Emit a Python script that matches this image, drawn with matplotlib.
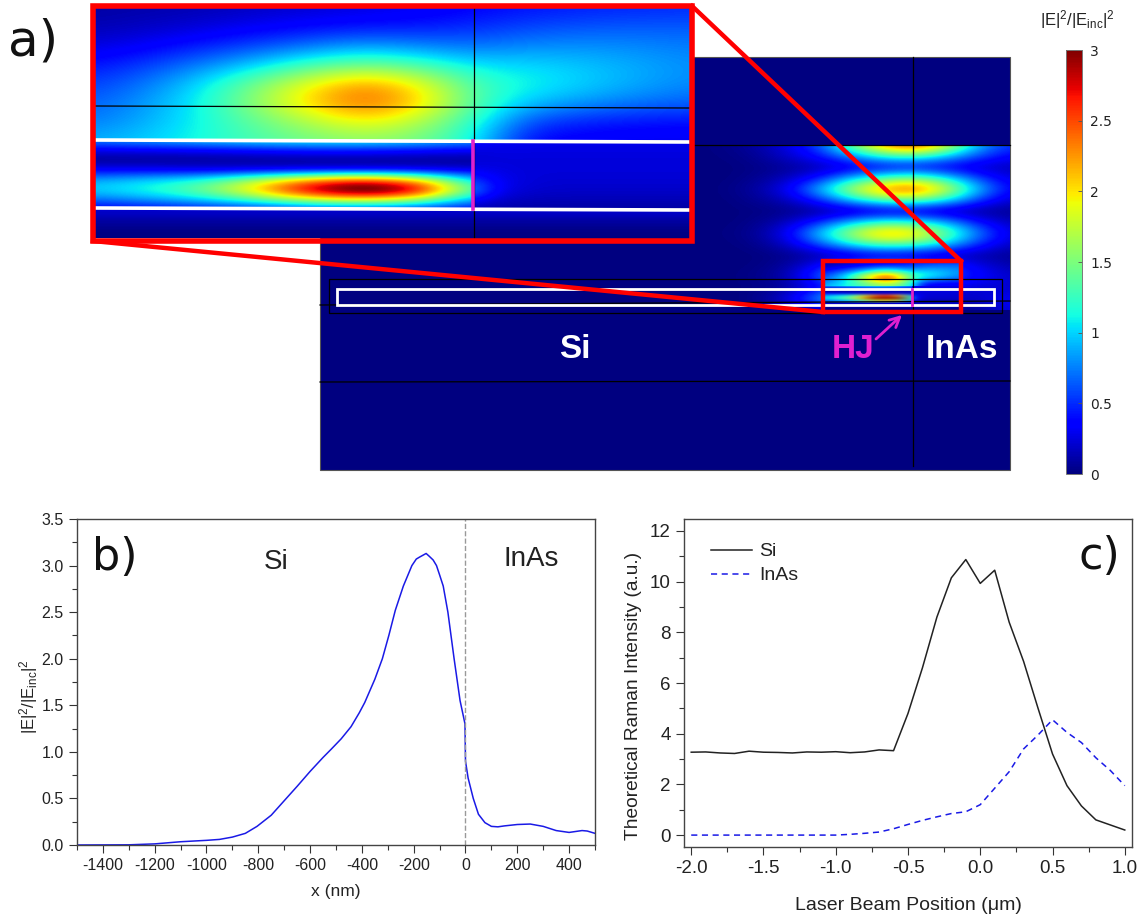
import numpy as np
import matplotlib
matplotlib.use('Agg')
import matplotlib.pyplot as plt
from matplotlib.patches import Rectangle
from matplotlib.cm import ScalarMappable
from matplotlib.colors import Normalize

plt.rcParams['font.family'] = ['Liberation Sans', 'DejaVu Sans']
plt.rcParams['mathtext.fontset'] = 'custom'
plt.rcParams['mathtext.rm'] = 'Liberation Sans'
plt.rcParams['mathtext.default'] = 'regular'
plt.rcParams['axes.unicode_minus'] = False

# panel b
b_x = [-1500, -1300, -1200, -1100, -1000, -950, -900, -850, -805, -750, -692, -650, -600, -550,
       -518, -480, -442, -410, -389, -350, -321, -296, -271, -240, -207, -190, -178, -165, -152,
       -140, -125, -112, -100, -86, -68, -44, -21, -8, -2, 0, 10, 30, 50, 75, 100, 125, 150, 200,
       250, 300, 350, 400, 450, 470, 500]
b_y = [0, .002, .012, .035, .05, .06, .085, .125, .2, .32, .5, .63, .79, .94,
       1.03, 1.14, 1.27, 1.42, 1.53, 1.78, 2.0, 2.25, 2.52, 2.78, 3.0, 3.07, 3.09, 3.11, 3.13,
       3.1, 3.06, 3.0, 2.9, 2.78, 2.5, 2.0, 1.55, 1.38, 1.3, .9, .72, .5, .33, .24, .2, .195, .205, .22,
       .225, .2, .155, .135, .155, .15, .125]

# panel c
c_x = [-2.0, -1.9, -1.8, -1.7, -1.6, -1.5, -1.4, -1.3, -1.2, -1.1, -1.0, -.9, -.8, -.7, -.6, -.5,
       -.4, -.3, -.2, -.1, 0, .1, .2, .3, .4, .5, .6, .7, .8, .9, 1.0]
si_y = [3.27, 3.28, 3.24, 3.22, 3.31, 3.27, 3.26, 3.24, 3.28, 3.27, 3.29, 3.25, 3.28, 3.36, 3.33, 4.8,
        6.6, 8.6, 10.15, 10.87, 9.93, 10.45, 8.4, 6.85, 5.0, 3.2, 1.95, 1.15, .6, .4, .2]
inas_y = [0, 0, 0, 0, 0, 0, 0, 0, 0, 0, 0, .03, .07, .12, .25, .42,
          .58, .72, .85, .92, 1.2, 1.85, 2.5, 3.4, 3.95, 4.55, 4.05, 3.65, 3.05, 2.55, 1.95]

# field map, one row per line
blobs = [[0, .02, .08, .25, .55, 1.4, 2.3, 2.7, 1.9, .9, .5],
         [0, .01, .05, .2, .4, .8, 1.2, 1.3, 1.0, .6, .35],
         [0, 0, .02, .06, .12, .2, .28, .3, .25, .18, .15],
         [0, 0, .04, .15, .4, .9, 1.3, 1.5, 1.1, .55, .25],
         [0, .01, .08, .3, .9, 1.7, 2.4, 2.6, 1.9, .95, .35],
         [0, 0, .05, .15, .45, .95, 1.35, 1.45, 1.1, .55, .2],
         [0, 0, .01, .03, .06, .1, .14, .14, .1, .06, .05],
         [0, 0, .03, .15, .45, .9, 1.2, 1.15, .85, .4, .15],
         [0, .01, .05, .3, .95, 1.7, 2.3, 2.2, 1.5, .75, .25],
         [0, 0, .03, .18, .6, 1.1, 1.45, 1.35, 1.0, .5, .18],
         [0, 0, 0, .03, .08, .14, .18, .18, .14, .1, .05],
         [0, 0, .01, .08, .35, .75, .95, .8, .55, .3, .12],
         [0, 0, .03, .12, .6, 1.3, 2.1, 1.3, .6, .4, .2],
         [0, 0, .01, .05, .25, .5, .7, .4, .25, .2, .2],
         [0, 0, .02, .25, .9, 1.6, 3.0, .7, .2, .2, .35],
         [0, 0, 0, 0, 0, .05, .1, .05, .02, .02, .3]]

# zoomed inset, above the wire
inset_top = [[.10, .12, .14, .18, .22, .26, .30, .36, .42, .46, .48, .50],
             [.14, .18, .24, .32, .38, .42, .44, .50, .58, .62, .64, .64],
             [.25, .34, .46, .58, .72, .85, .76, .70, .78, .80, .78, .74],
             [.42, .56, .76, 1.0, 1.3, 1.45, 1.3, 1.05, 1.02, .96, .88, .80],
             [.56, .74, 1.05, 1.5, 1.95, 2.3, 1.95, 1.3, 1.12, 1.0, .88, .78],
             [.66, .84, 1.12, 1.6, 2.1, 2.45, 2.1, 1.35, .95, .82, .72, .66],
             [.74, .90, 1.12, 1.4, 1.7, 1.95, 1.7, 1.2, .58, .46, .42, .40],
             [.90, 1.0, 1.15, 1.3, 1.45, 1.55, 1.45, 1.1, .36, .32, .30, .30]]

# inside the wire, Si side
inset_si = [[.75, .85, .95, 1.05, 1.1, 1.1, 1.0, .8],
            [.25, .28, .3, .35, .4, .4, .35, .3],
            [.04, .04, .04, .04, .04, .04, .04, .05],
            [.35, .35, .3, .3, .3, .3, .3, .25],
            [.85, 1.0, 1.15, 1.7, 2.3, 2.6, 2.1, .9],
            [1.0, 1.15, 1.45, 2.1, 3.0, 3.5, 3.0, 1.2],
            [.7, .85, 1.0, 1.35, 1.8, 2.0, 1.7, .8],
            [.3, .35, .4, .45, .5, .5, .45, .35]]

# inside the wire, InAs side
inset_inas = [[.38, .32, .30, .28, .28, .28, .28, .28, .28],
              [.25, .26, .26, .26, .26, .26, .26, .26, .26],
              [.22, .24, .24, .24, .24, .24, .24, .24, .24],
              [.30, .26, .24, .24, .24, .24, .24, .24, .24],
              [.55, .30, .24, .22, .22, .22, .22, .22, .22],
              [.80, .30, .22, .20, .20, .20, .20, .20, .20],
              [.40, .20, .16, .15, .15, .15, .15, .15, .15],
              [.12, .10, .10, .10, .10, .10, .10, .10, .10]]

# below the wire
inset_low = [[.25, .25], [.05, .05], [0, 0]]

cbar_ticks = [0, 0.5, 1, 1.5, 2, 2.5, 3]
cbar_labels = ['0', '0.5', '1', '1.5', '2', '2.5', '3']

W, H = 1138, 917
fig = plt.figure(figsize=(W / 100, H / 100), dpi=100)


def px_axes(x0, y0, x1, y1):
    return fig.add_axes([x0 / W, 1 - y1 / H, (x1 - x0) / W, (y1 - y0) / H])


# whole figure in pixels for panel a
pa = px_axes(0, 0, W, H)
pa.axis('off')
navy = plt.cm.jet(0.0)


def field(grid, x0, y0, x1, y1, z):
    grid = np.array(grid)
    dx = (x1 - x0) / (grid.shape[1] - 1)
    dy = (y1 - y0) / (grid.shape[0] - 1)
    im = pa.imshow(grid, cmap='jet', vmin=0, vmax=3, interpolation='bicubic', aspect='auto',
                   extent=[x0 - dx / 2, x1 + dx / 2, y1 + dy / 2, y0 - dy / 2], zorder=z)
    im.set_clip_path(Rectangle((x0, y0), x1 - x0, y1 - y0, transform=pa.transData))


pa.add_patch(Rectangle((320, 57), 690, 413, fc=navy, ec='#555555', lw=0.8, zorder=1))
field(blobs, 690, 145, 1010, 310, 2)
# the red box shows the same field as the inset, only smaller
field(inset_top, 823, 261, 961, 286, 2.1)
field(inset_si, 823, 286, 912, 303, 2.1)
field(inset_inas, 912, 286, 961, 303, 2.1)
field(inset_low, 823, 303, 961, 312, 2.1)

# lines of the main map
pa.plot([320, 1010], [382, 381], color='k', lw=0.9, zorder=3)
pa.plot([320, 1010], [305, 301], color='k', lw=0.9, zorder=3)
pa.plot([690, 1010], [145, 145], color='k', lw=0.9, zorder=3)
pa.plot([913, 913], [57, 466], color='k', lw=0.9, zorder=3)
pa.add_patch(Rectangle((329, 279), 673, 34, fc='none', ec='k', lw=0.9, zorder=3))
pa.add_patch(Rectangle((337, 289), 657, 16, fc='none', ec='white', lw=2, zorder=3))
pa.plot([912, 912], [289, 305], color='#e020d0', lw=2, zorder=4)

# red zoom box and connectors
pa.add_patch(Rectangle((823, 261), 138, 51, fc='none', ec='#ff0000', lw=3.2, zorder=5))
pa.plot([692, 961], [6, 261], color='#ff0000', lw=3.2, zorder=5)
pa.plot([93, 823], [241, 312], color='#ff0000', lw=3.2, zorder=5)

# inset
field(inset_top, 95, 8, 690, 141, 6)
field(inset_si, 95, 141, 473, 209, 6)
field(inset_inas, 473, 141, 690, 209, 6)
field(inset_low, 95, 209, 690, 238, 6)
pa.plot([95, 690], [106, 108], color='k', lw=0.9, zorder=7)
pa.plot([474, 474], [8, 238], color='k', lw=0.9, zorder=7)
pa.plot([95, 690], [140, 142], color='white', lw=2.6, zorder=7)
pa.plot([95, 690], [208, 210], color='white', lw=2.6, zorder=7)
pa.plot([473, 473], [141, 209], color='#e020d0', lw=2.6, zorder=8)
pa.add_patch(Rectangle((93, 6), 599, 235, fc='none', ec='#ff0000', lw=4, zorder=9))

# labels in panel a
pa.text(8, 42, 'a)', fontsize=36, family='DejaVu Sans', color='#111111', va='center', zorder=10)
pa.text(575, 349, 'Si', fontsize=24, fontweight='bold', color='white', ha='center', va='center', zorder=10)
pa.text(962, 349, 'InAs', fontsize=24, fontweight='bold', color='white', ha='center', va='center', zorder=10)
pa.text(853, 349, 'HJ', fontsize=24, fontweight='bold', color='#e020d0', ha='center', va='center', zorder=10)
pa.annotate('', xy=(902, 315), xytext=(876, 339), zorder=10,
            arrowprops=dict(arrowstyle='->', color='#e020d0', lw=2, mutation_scale=18,
                            shrinkA=0, shrinkB=0))
pa.set_xlim(0, W)
pa.set_ylim(H, 0)

# colorbar
cax = px_axes(1066, 50, 1082, 474)
cb = fig.colorbar(ScalarMappable(Normalize(0, 3), 'jet'), cax=cax)
cb.set_ticks(cbar_ticks, labels=cbar_labels)
cb.ax.tick_params(length=3, width=0.6, color='#555555', labelsize=10, labelcolor='#222222',
                  direction='in', pad=6)
for lab in cb.ax.get_yticklabels():
    lab.set_family('DejaVu Sans')
cb.outline.set_edgecolor('#777777')
cb.outline.set_linewidth(0.7)
pa.text(1077, 20, r'$|E|^2/|E_{inc}|^2$', fontsize=12, color='#222222', ha='center', va='center')

# panel b
ax_b = px_axes(77, 519, 595, 845)
ax_b.plot(b_x, b_y, color='#1a1ae6', lw=1.1)
ax_b.axvline(0, color='#999999', lw=1, ls='--')
ax_b.set_xlim(-1500, 500)
ax_b.set_ylim(0, 3.5)
ax_b.set_xticks(np.arange(-1400, 401, 200))
ax_b.set_xticks(np.arange(-1500, 501, 100), minor=True)
ax_b.set_yticks(np.arange(0, 3.51, 0.5))
ax_b.set_yticks(np.arange(0, 3.51, 0.25), minor=True)
ax_b.set_yticklabels(['%.1f' % v for v in np.arange(0, 3.51, 0.5)])
ax_b.set_xlabel('x (nm)', fontsize=12.5, labelpad=8, color='#222222')
ax_b.set_ylabel(r'$|E|^2/|E_{inc}|^2$', fontsize=12, labelpad=1, color='#222222', y=0.454)
ax_b.text(-732, 3.04, 'Si', fontsize=20, ha='center', va='center', color='#222222')
ax_b.text(253, 3.07, 'InAs', fontsize=20, ha='center', va='center', color='#222222')
ax_b.text(-1442, 3.09, 'b)', fontsize=32, family='DejaVu Sans', ha='left', va='center', color='#111111')

# panel c
ax_c = px_axes(684, 519, 1132, 847)
ax_c.plot(c_x, si_y, color='#222222', lw=1.1, label='Si')
ax_c.plot(c_x, inas_y, color='#1a1ae6', lw=1.1, ls=(0, (4, 3)), label='InAs')
ax_c.set_xlim(-2.05, 1.05)
ax_c.set_ylim(-0.47, 12.47)
ax_c.set_xticks(np.arange(-2, 1.01, 0.5))
ax_c.set_xticks(np.arange(-2, 1.01, 0.25), minor=True)
ax_c.set_xticklabels(['%.1f' % v for v in np.arange(-2, 1.01, 0.5)])
ax_c.set_yticks(np.arange(0, 13, 2))
ax_c.set_yticks(np.arange(0, 13, 1), minor=True)
ax_c.set_xlabel('Laser Beam Position (\u03bcm)', fontsize=14, labelpad=14, color='#222222')
ax_c.set_ylabel('Theoretical Raman Intensity (a.u.)', fontsize=13.8, labelpad=6, color='#222222', y=0.46)
ax_c.legend(loc='upper left', frameon=False, fontsize=14, borderaxespad=0.4, handlelength=2.1,
            handletextpad=0.4, labelspacing=0.33, bbox_to_anchor=(0.025, 0.975), labelcolor='#222222')
ax_c.text(0.973, 0.885, 'c)', transform=ax_c.transAxes, fontsize=32, family='DejaVu Sans',
          ha='right', va='center', color='#111111')

ax_b.tick_params(which='major', labelsize=11.5)
ax_c.tick_params(which='major', labelsize=13.5)
for ax in (ax_b, ax_c):
    ax.tick_params(which='major', length=6, width=0.8, color='#333333', labelcolor='#222222')
    ax.tick_params(which='minor', length=3.5, width=0.8, color='#333333')
    for s in ax.spines.values():
        s.set_color('#444444')
        s.set_linewidth(1)

fig.savefig('out.png', dpi=100)
